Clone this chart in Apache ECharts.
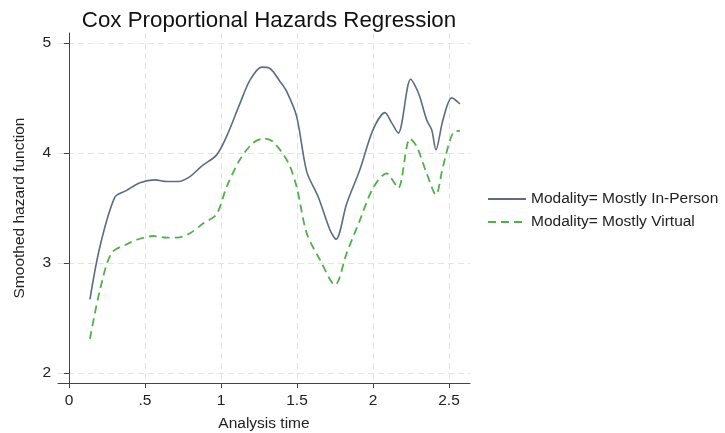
<!DOCTYPE html>
<html><head><meta charset="utf-8">
<script src="https://cdn.jsdelivr.net/npm/echarts@6/dist/echarts.min.js"></script>
<style>html,body{margin:0;padding:0;background:#fff}#c{width:725px;height:433px}</style>
</head><body><div id="c"></div>
<script>
var titleText = 'Cox Proportional Hazards Regression';
var xTicks = [0, 0.5, 1, 1.5, 2, 2.5];
var yTicks = [2, 3, 4, 5];
var inPersonX = [0.138,0.204,0.303,0.38,0.467,0.566,0.643,0.72,0.796,0.873,0.97,1.037,1.125,1.19,1.268,1.32,1.388,1.432,1.498,1.564,1.64,1.717,1.757,1.827,1.914,2.0,2.079,2.12,2.166,2.248,2.30,2.353,2.386,2.414,2.46,2.518,2.572];
var inPersonY = [2.67,3.15,3.60,3.66,3.73,3.755,3.74,3.74,3.785,3.88,3.98,4.15,4.45,4.66,4.78,4.77,4.65,4.56,4.33,3.83,3.60,3.30,3.215,3.54,3.85,4.21,4.366,4.28,4.18,4.67,4.54,4.30,4.21,4.03,4.30,4.50,4.445];
var virtualX = [0.138,0.204,0.28,0.38,0.467,0.555,0.643,0.71,0.796,0.884,0.97,1.037,1.125,1.21,1.28,1.344,1.443,1.498,1.564,1.651,1.75,1.827,1.914,2.0,2.09,2.12,2.166,2.243,2.287,2.353,2.414,2.46,2.53,2.572];
var virtualY = [2.31,2.755,3.09,3.17,3.22,3.245,3.23,3.23,3.27,3.36,3.44,3.69,3.94,4.09,4.13,4.10,3.91,3.69,3.27,3.03,2.80,3.09,3.39,3.68,3.815,3.77,3.68,4.13,4.06,3.815,3.62,3.875,4.19,4.20];
var seriesNames = ['Modality= Mostly In-Person', 'Modality= Mostly Virtual'];

function pairs(xs, ys){ return xs.map(function(x,i){ return [x, ys[i]]; }); }
var font = 'Liberation Sans, Arial, Helvetica, sans-serif';
var chart = echarts.init(document.getElementById('c'));
chart.setOption({
  animation: false,
  backgroundColor: '#fff',
  title: { text: titleText, left: 264, top: 5, textAlign: 'center',
    textStyle: { fontFamily: font, fontSize: 22.3, fontWeight: 'normal', color: '#111' } },
  grid: { left: 58, right: 255, top: 33, bottom: 50, containLabel: false, outerBoundsMode: 'none' },
  legend: {
    orient: 'vertical', left: 482, top: 186, itemGap: 7, itemWidth: 38, itemHeight: 14,
    itemStyle: { opacity: 0 },
    textStyle: { fontFamily: font, fontSize: 15.5, color: '#222' },
    data: seriesNames
  },
  xAxis: {
    type: 'value', min: -0.072, max: 2.638,
    name: 'Analysis time', nameLocation: 'middle', nameGap: 33,
    nameTextStyle: { fontFamily: font, fontSize: 15.5, color: '#222' },
    axisLine: { show: true, lineStyle: { color: '#444', width: 1 } },
    axisTick: { show: true, length: 5, customValues: xTicks, lineStyle: { color: '#444' } },
    axisLabel: { customValues: xTicks, fontFamily: font, fontSize: 15.5, color: '#222', margin: 10,
      formatter: function(v){ var s = String(Math.round(v*10)/10); return s.replace(/^0\./,'.'); } },
    splitLine: { show: true, lineStyle: { color: '#e4e4e4', type: [6,4], width: 1 } }
  },
  yAxis: {
    type: 'value', min: 1.909, max: 5.09,
    name: 'Smoothed hazard function', nameLocation: 'middle', nameGap: 30, nameRotate: 90,
    nameTextStyle: { fontFamily: font, fontSize: 15.5, color: '#222' },
    axisLine: { show: true, lineStyle: { color: '#444', width: 1 } },
    axisTick: { show: true, length: 5, customValues: yTicks, lineStyle: { color: '#444' } },
    axisLabel: { customValues: yTicks, fontFamily: font, fontSize: 15.5, color: '#222', margin: 7,
      formatter: function(v){ return String(Math.round(v)); } },
    splitLine: { show: true, lineStyle: { color: '#e4e4e4', type: [6,4], width: 1 } }
  },
  series: [
    { name: seriesNames[0], type: 'line', data: pairs(inPersonX, inPersonY), symbol: 'none', smooth: 0.3,
      lineStyle: { color: '#5d6b84', width: 1.6 }, itemStyle: { color: '#5d6b84' } },
    { name: seriesNames[1], type: 'line', data: pairs(virtualX, virtualY), symbol: 'none', smooth: 0.3,
      lineStyle: { color: '#52b04a', width: 1.8, type: [8,5] }, itemStyle: { color: '#52b04a' } }
  ]
});
</script></body></html>
